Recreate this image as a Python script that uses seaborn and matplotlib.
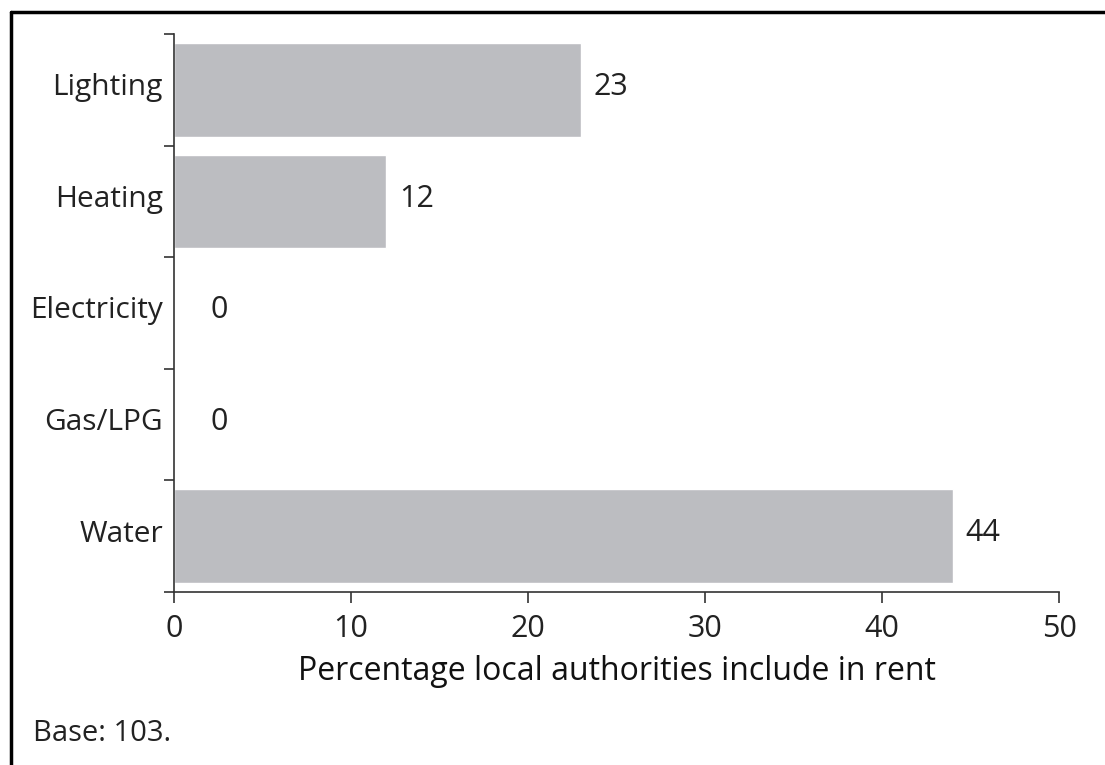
import matplotlib
matplotlib.use('Agg')
import matplotlib.pyplot as plt
import matplotlib.transforms as mtransforms
import seaborn as sns
import pandas as pd

# data
categories = ['Lighting', 'Heating', 'Electricity', 'Gas/LPG', 'Water']
values = [23, 12, 0, 0, 44]

df = pd.DataFrame({'Item': categories, 'Percent': values})

sns.set_style('ticks')
plt.rcParams['font.family'] = ['Open Sans', 'DejaVu Sans']

fig = plt.figure(figsize=(11.05, 7.65), dpi=100)
ax = fig.add_axes([0.1575, 0.2261, 0.801, 0.7295])

sns.barplot(data=df, y='Item', x='Percent', color='#bcbdc1', width=0.84,
            saturation=1, ax=ax, orient='h')

ax.set_xlim(0, 50)
ax.set_ylim(4.5, -0.5)
ax.set_xticks([0, 10, 20, 30, 40, 50])
# ticks between categories on the y axis
ax.set_yticks([i - 0.5 for i in range(len(categories) + 1)], minor=False)
ax.set_yticklabels([])
ax.set_yticks(range(len(categories)), minor=True)
ax.set_yticklabels(categories, minor=True)
ax.tick_params(axis='y', which='minor', length=0, pad=8, labelsize=21.5)
ax.tick_params(axis='y', which='major', length=7, width=1.2, color='#333333')
ax.tick_params(axis='x', length=8, width=1.2, color='#333333', labelsize=22, pad=8)
for lbl in ax.get_xticklabels() + ax.get_yticklabels(minor=True):
    lbl.set_color('#222222')

# category names sit a little above the bar centre in the reference
shift = mtransforms.ScaledTranslation(0, 4 / 72, fig.dpi_scale_trans)
for lbl in ax.get_yticklabels(minor=True):
    lbl.set_transform(lbl.get_transform() + shift)

for side in ['top', 'right']:
    ax.spines[side].set_visible(False)
for side in ['left', 'bottom']:
    ax.spines[side].set_linewidth(1.2)
    ax.spines[side].set_color('#333333')

ax.set_xlabel('Percentage local authorities include in rent', fontsize=23,
              color='#111111', labelpad=8)
ax.set_ylabel('')

# value labels; zero bars have their label set further out
for bar, v in zip(ax.containers[0], values):
    off = 9 if v > 0 else 26
    ax.annotate(f'{v}', (bar.get_width(), bar.get_y() + bar.get_height() / 2),
                xytext=(off, 2), textcoords='offset points', va='center',
                ha='left', fontsize=22, color='#222222')

fig.text(0.03, 0.032, 'Base: 103.', fontsize=21, color='#222222')

# frame line along the top and left of the figure
fig.add_artist(plt.Line2D([0.0099, 1], [0.9843, 0.9843], color='black', lw=2.5,
                          transform=fig.transFigure))
fig.add_artist(plt.Line2D([0.0099, 0.0099], [0, 0.9843], color='black', lw=2.5,
                          transform=fig.transFigure))

fig.savefig('out.png', dpi=100)
